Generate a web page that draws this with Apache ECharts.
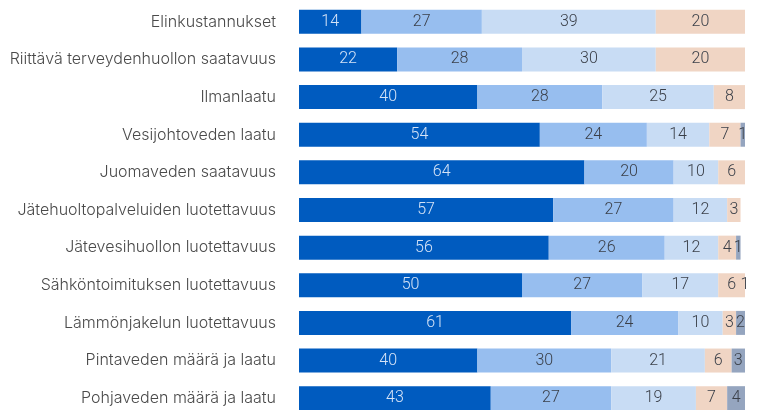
<!DOCTYPE html>
<html><head><meta charset="utf-8">
<script src="https://cdn.jsdelivr.net/npm/echarts@6/dist/echarts.min.js"></script>
<style>html,body{margin:0;padding:0;background:#fff}#c{width:760px;height:410px}</style>
</head><body><div id="c"></div>
<script>
var categories = ["Elinkustannukset","Riittävä terveydenhuollon saatavuus","Ilmanlaatu","Vesijohtoveden laatu","Juomaveden saatavuus","Jätehuoltopalveluiden luotettavuus","Jätevesihuollon luotettavuus","Sähköntoimituksen luotettavuus","Lämmönjakelun luotettavuus","Pintaveden määrä ja laatu","Pohjaveden määrä ja laatu"];
var s1 = [14,22,40,54,64,57,56,50,61,40,43];
var s2 = [27,28,28,24,20,27,26,27,24,30,27];
var s3 = [39,30,25,14,10,12,12,17,10,21,19];
var s4 = [20,20,8,7,6,3,4,6,3,6,7];
var s5 = [0,0,0,1,0,0,1,1,2,3,4];
var colors = ["#005BBF","#97BEEF","#C8DCF4","#F0D5C4","#95A5BF"];
var labelColors = ["#D6E4F7","#3A3F48","#3A3F48","#3A3F48","#3A3F48"];
var chart = echarts.init(document.getElementById('c'), null, {renderer:'canvas'});
var all = [s1,s2,s3,s4,s5];
var series = all.map(function(d,i){
  return {type:'bar', stack:'a', data:d, barWidth:24, itemStyle:{color:colors[i]},
    label:{show:true, position:'inside', color:labelColors[i], fontFamily:'Roboto', fontWeight:300, fontSize:16,
      formatter:function(p){return p.value>0?p.value:'';}},
    animation:false};
});
chart.setOption({
  animation:false,
  grid:{left:299,right:15,top:3,height:414,outerBoundsMode:'none',containLabel:false},
  xAxis:{type:'value',min:0,max:100,show:false},
  yAxis:{type:'category',data:categories,inverse:true,axisLine:{show:false},axisTick:{show:false},
    axisLabel:{color:'#4A4A4A',fontFamily:'Inter',fontWeight:300,fontSize:16,margin:23}},
  series:series
});
</script></body></html>
